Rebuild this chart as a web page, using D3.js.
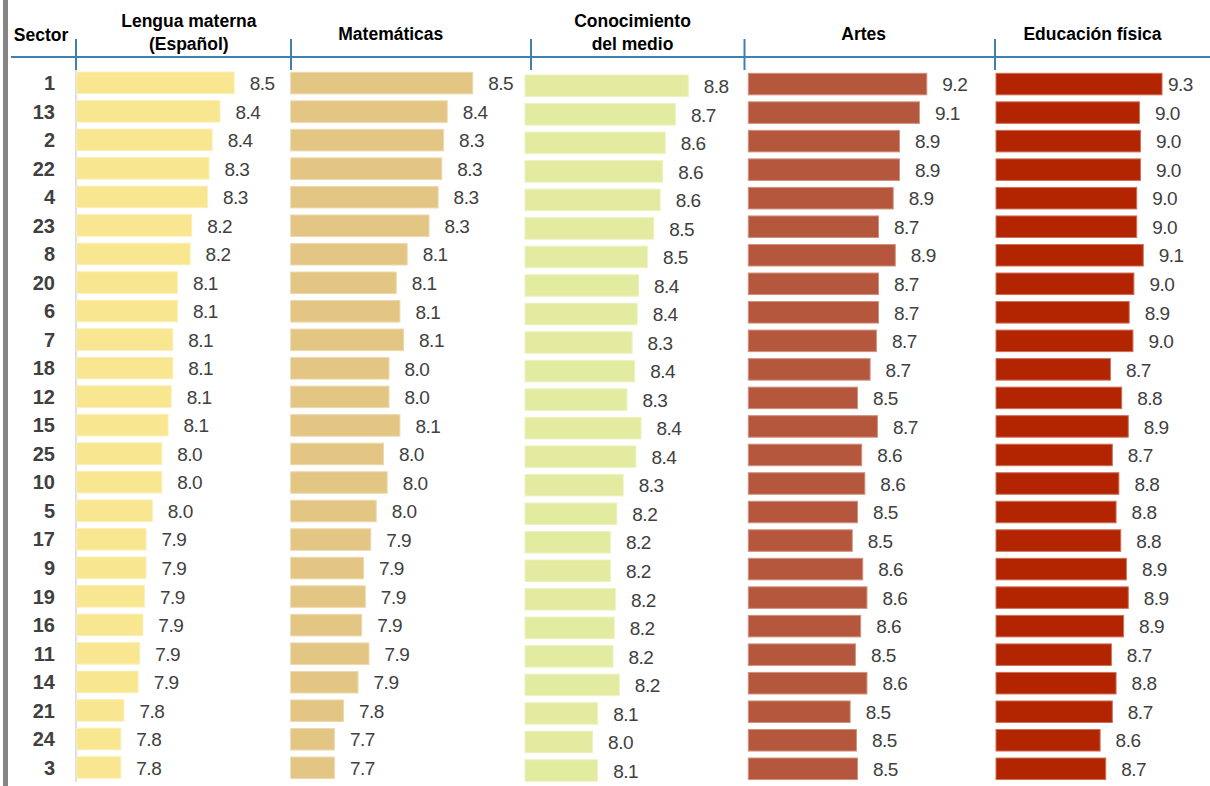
<!DOCTYPE html>
<html lang="es">
<head>
<meta charset="UTF-8">
<title>Calificaciones por sector</title>
<script src="https://cdn.jsdelivr.net/npm/d3@7"></script>
<style>
    body { margin: 0; background: #fff; }
    svg { display: block; font-family: "Liberation Sans", Arial, sans-serif; }
    .val { fill: #404040; font-size: 19px; letter-spacing: -0.5px; }
    .sector { fill: #404040; font-size: 20px; font-weight: bold; }
    .head { fill: #000; font-size: 17.5px; font-weight: bold; }
</style>
</head>
<body>
<script>
    // sectores, en el orden del cuadro
    var sectors = ["1", "13", "2", "22", "4", "23", "8", "20", "6", "7", "18", "12", "15",
                   "25", "10", "5", "17", "9", "19", "16", "11", "14", "21", "24", "3"];

    // titulos de columna (una entrada por linea)
    var headers = [["Lengua materna", "(Español)"], ["Matemáticas"], ["Conocimiento", "del medio"],
                   ["Artes"], ["Educación física"]];

    // promedios por sector
    var lengua = [8.50, 8.41, 8.36, 8.34, 8.33, 8.23, 8.22, 8.14, 8.14, 8.11, 8.11, 8.10, 8.08,
                  8.04, 8.04, 7.98, 7.94, 7.94, 7.93, 7.92, 7.90, 7.89, 7.80, 7.78, 7.78];
    var matematicas = [8.50, 8.36, 8.34, 8.33, 8.31, 8.26, 8.14, 8.08, 8.10, 8.12, 8.04, 8.04, 8.10,
                       8.01, 8.03, 7.97, 7.94, 7.90, 7.91, 7.89, 7.93, 7.87, 7.79, 7.74, 7.74];
    var conocimiento = [8.78, 8.68, 8.60, 8.58, 8.56, 8.51, 8.46, 8.39, 8.38, 8.34, 8.36, 8.30, 8.41,
                        8.37, 8.27, 8.22, 8.17, 8.17, 8.21, 8.20, 8.19, 8.24, 8.07, 8.03, 8.07];
    var artes = [9.20, 9.13, 8.94, 8.94, 8.88, 8.74, 8.90, 8.74, 8.74, 8.72, 8.66, 8.54, 8.73,
                 8.58, 8.61, 8.54, 8.49, 8.59, 8.63, 8.57, 8.52, 8.63, 8.47, 8.53, 8.54];
    var edFisica = [9.27, 9.03, 9.04, 9.04, 9.00, 9.00, 9.07, 8.97, 8.92, 8.96, 8.72, 8.84, 8.91,
                    8.74, 8.81, 8.78, 8.83, 8.89, 8.91, 8.86, 8.73, 8.78, 8.74, 8.61, 8.67];

    var series = [lengua, matematicas, conocimiento, artes, edFisica];
    var colors = ["#f9e690", "#e3c584", "#e3eba0", "#b5573c", "#b32400"];

    // ---- geometria ----
    var width = 1210, height = 786;
    var panelX = [76.7, 290.7, 525, 748.3, 996];      // inicio de barras
    var pxPerUnit = [157.5, 182, 127.5, 105, 93.8];   // escala de cada columna
    var panelTop = [72, 72.3, 75, 73.3, 73.3];        // borde superior de la 1a barra
    var headX = [188.8, 390.8, 632.5, 863.7, 1092.5];
    var dividers = [76, 291, 531, 744.5, 995];
    var step = 28.53, pad = 0.245;
    var fmt = d3.format(".1f");

    var svg = d3.select("body").append("svg")
        .attr("width", width)
        .attr("height", height);

    // franja gris a la izquierda
    svg.append("rect")
        .attr("x", 3).attr("y", 0)
        .attr("width", 5).attr("height", height)
        .attr("fill", "#858585");

    // eje claro de la primera columna
    svg.append("line")
        .attr("x1", 76).attr("x2", 76)
        .attr("y1", 66).attr("y2", 782)
        .attr("stroke", "#d4d4d4").attr("stroke-width", 1.5);

    // linea azul del encabezado
    svg.append("line")
        .attr("x1", 11).attr("x2", width)
        .attr("y1", 57).attr("y2", 57)
        .attr("stroke", "#3e80b0").attr("stroke-width", 2);

    svg.selectAll("line.div")
        .data(dividers)
        .enter().append("line")
        .attr("class", "div")
        .attr("x1", function (d) { return d; })
        .attr("x2", function (d) { return d; })
        .attr("y1", 39).attr("y2", 70)
        .attr("stroke", "#3e80b0").attr("stroke-width", 2);

    // encabezados
    svg.append("text")
        .attr("class", "head")
        .attr("x", 41).attr("y", 41)
        .attr("text-anchor", "middle")
        .text("Sector");

    headers.forEach(function (lines, i) {
        var base = lines.length == 2 ? [27, 50] : [40];
        svg.append("g").selectAll("text")
            .data(lines)
            .enter().append("text")
            .attr("class", "head")
            .attr("x", headX[i])
            .attr("y", function (d, j) { return base[j]; })
            .attr("text-anchor", "middle")
            .text(function (d) { return d; });
    });

    function bandFor(i) {
        var r0 = panelTop[i] - pad / 2 * step;
        return d3.scaleBand()
            .domain(sectors)
            .range([r0, r0 + sectors.length * step])
            .paddingInner(pad)
            .paddingOuter(pad / 2);
    }

    // etiquetas de sector
    var y0 = bandFor(0);
    svg.append("g").selectAll("text")
        .data(sectors)
        .enter().append("text")
        .attr("class", "sector")
        .attr("x", 55)
        .attr("y", function (d) { return y0(d) + y0.bandwidth() / 2; })
        .attr("dy", "0.36em")
        .attr("text-anchor", "end")
        .text(function (d) { return d; });

    // columnas de barras
    series.forEach(function (vals, i) {
        var x = d3.scaleLinear()
            .domain([7.5, 9.5])
            .range([panelX[i], panelX[i] + 2 * pxPerUnit[i]]);
        var y = bandFor(i);
        var rows = vals.map(function (v, j) { return { s: sectors[j], v: v }; });
        var g = svg.append("g");

        g.selectAll("rect")
            .data(rows)
            .enter().append("rect")
            .attr("x", x(7.5))
            .attr("y", function (d) { return y(d.s); })
            .attr("width", function (d) { return x(d.v) - x(7.5); })
            .attr("height", y.bandwidth())
            .attr("fill", colors[i])
            .attr("stroke", d3.interpolateRgb(colors[i], "#fff")(0.35))
            .attr("stroke-width", 1);

        g.selectAll("text")
            .data(rows)
            .enter().append("text")
            .attr("class", "val")
            .attr("x", function (d) { return Math.min(x(d.v) + 15.5, width - 42); })
            .attr("y", function (d) { return y(d.s) + y.bandwidth() / 2; })
            .attr("dy", "0.38em")
            .text(function (d) { return fmt(d.v); });
    });
</script>
</body>
</html>
